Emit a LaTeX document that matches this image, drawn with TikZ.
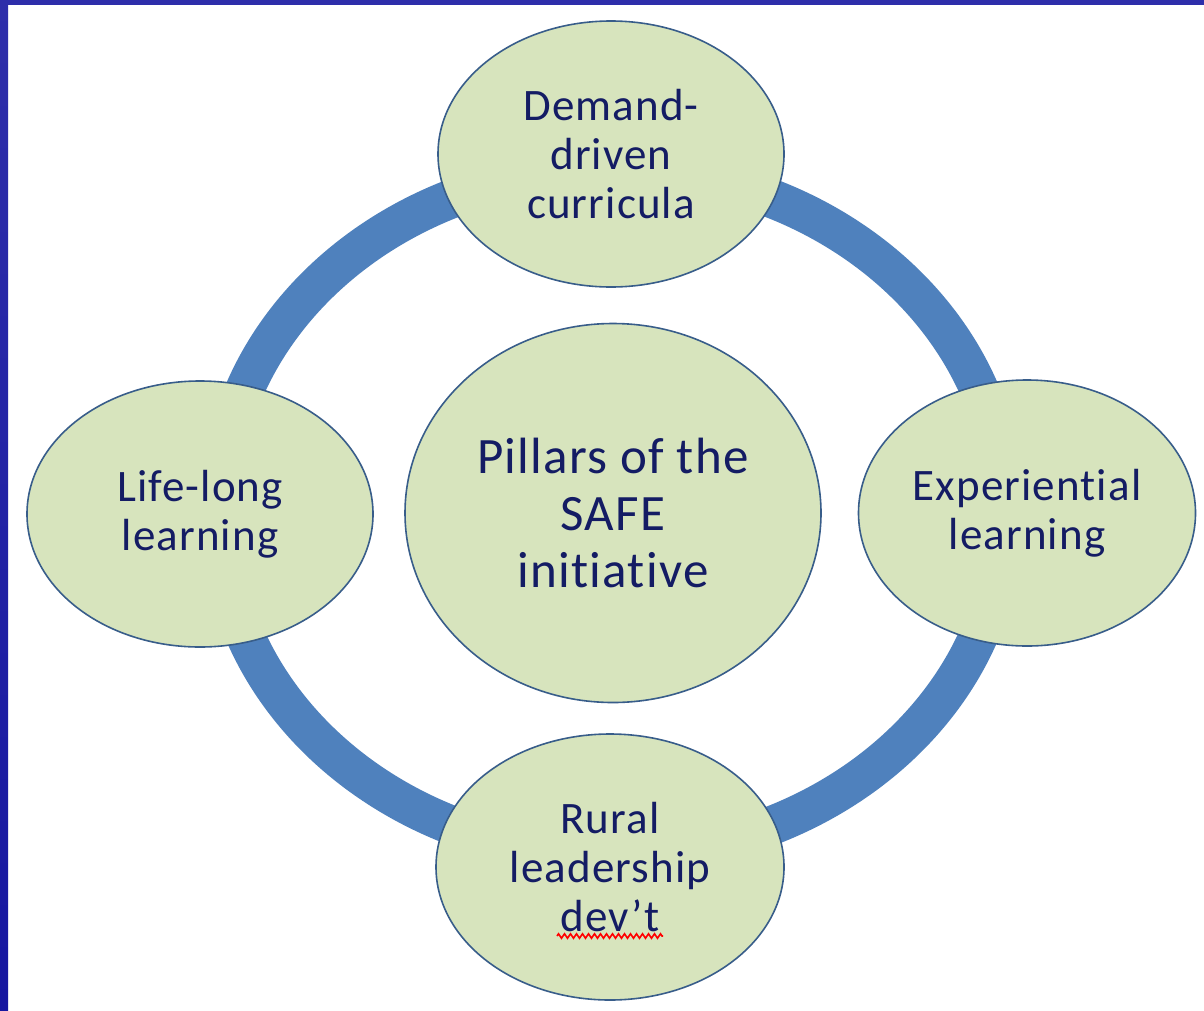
\documentclass[tikz,border=0pt]{standalone}
\usepackage{fontspec}
\setmainfont{Carlito}[Ligatures=NoCommon, LetterSpace=2.5]
\usetikzlibrary{shapes.geometric, decorations.pathmorphing}
\definecolor{ringblue}{RGB}{79,129,189}
\definecolor{pillarfill}{RGB}{215,228,189}
\definecolor{pillarline}{RGB}{56,93,138}
\definecolor{pillartext}{RGB}{20,28,100}
\definecolor{frametop}{RGB}{46,46,170}
\definecolor{framebot}{RGB}{22,22,160}

\begin{document}
\begin{tikzpicture}[x=1pt, y=-1pt,
  pillar/.style={ellipse, draw=pillarline, line width=1.6pt, fill=pillarfill,
    text=pillartext, align=center, inner sep=0pt,
    font=\fontsize{45}{49}\selectfont},
  hub/.style={pillar, font=\fontsize{51}{57}\selectfont},
  ring/.style={draw=ringblue, line width=39pt},
  squiggle/.style={red, line width=1.6pt, decorate,
    decoration={zigzag, segment length=6pt, amplitude=2.2pt}}]
\useasboundingbox (0,0) rectangle (1204,1010);
\fill[white] (0,0) rectangle (1204,1010);

% frame
\shade[top color=frametop, bottom color=framebot] (0,0) rectangle (8,1010);
\fill[frametop] (0,0) rectangle (1204,5);

% ring behind the pillars
\draw[ring] (612,512) ellipse [x radius=393pt, y radius=343pt];

\node[pillar, minimum width=346pt, minimum height=266pt] (demand) at (611,154) {Demand-\\driven\\curricula};
\node[pillar, minimum width=346pt, minimum height=266pt] (lifelong) at (200,514) {Life-long\\learning};
\node[pillar, minimum width=337pt, minimum height=266pt] (experiential) at (1027,513) {Experiential\\learning};
\node[pillar, minimum width=348pt, minimum height=266pt] (rural) at (610,867) {Rural\\leadership\\dev’t};
\node[hub, minimum width=416pt, minimum height=379pt] (safe) at (613,513) {Pillars of the\\SAFE\\initiative};

\draw[squiggle] ([shift={(-53,69)}]rural.center) -- ([shift={(53,69)}]rural.center);
\end{tikzpicture}
\end{document}
